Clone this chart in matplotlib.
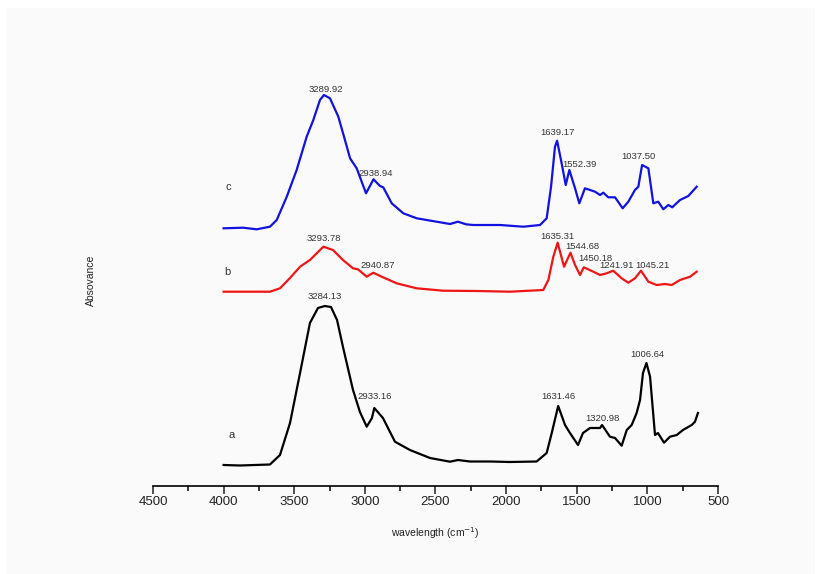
import matplotlib
matplotlib.use("Agg")
import matplotlib.pyplot as plt
from matplotlib.ticker import MultipleLocator
from matplotlib.patches import Rectangle

plt.rcParams['font.family'] = ['Liberation Sans', 'DejaVu Sans']

# FTIR spectra (wavenumber in cm-1, absorbance in a.u., traces stacked)
wn_a = [4000, 3884, 3778, 3672, 3601, 3530, 3459, 3389, 3332, 3284.13, 3240, 3197,
        3155, 3084, 3035, 2987, 2950, 2933.16, 2872, 2822, 2787, 2681, 2539, 2397,
        2341, 2256, 2114, 1973, 1784, 1713, 1677, 1631.46, 1583, 1548, 1491, 1456,
        1406, 1335, 1320.98, 1265, 1229, 1182, 1146, 1111, 1076, 1052, 1031,
        1006.64, 981, 946, 925, 882, 840, 792, 748, 686, 663, 642]
abs_a = [0.21, 0.205, 0.21, 0.215, 0.31, 0.63, 1.13, 1.63, 1.78, 1.80, 1.79, 1.66,
         1.39, 0.96, 0.74, 0.593, 0.68, 0.78, 0.68, 0.54, 0.443, 0.36, 0.28, 0.243,
         0.26, 0.245, 0.245, 0.24, 0.245, 0.33, 0.53, 0.80, 0.61, 0.53, 0.41, 0.53,
         0.58, 0.58, 0.61, 0.493, 0.48, 0.403, 0.56, 0.61, 0.73, 0.86, 1.13,
         1.23, 1.093, 0.51, 0.53, 0.433, 0.493, 0.51, 0.56, 0.61, 0.643, 0.73]

wn_b = [4000, 3672, 3601, 3530, 3459, 3389, 3293.78, 3226, 3155, 3084, 3049, 2987,
        2940.87, 2881, 2775, 2633, 2447, 2208, 1973, 1737, 1701, 1666, 1635.31,
        1590, 1544.68, 1512, 1477, 1450.18, 1383, 1335, 1288, 1241.91, 1182, 1135,
        1088, 1045.21, 993, 934, 875, 828, 769, 698, 651]
abs_b = [1.943, 1.943, 1.977, 2.08, 2.193, 2.26, 2.393, 2.36, 2.26, 2.177, 2.167, 2.093,
         2.133, 2.093, 2.027, 1.977, 1.953, 1.95, 1.943, 1.96, 2.06, 2.293, 2.433,
         2.193, 2.333, 2.21, 2.11, 2.187, 2.143, 2.11, 2.127, 2.153, 2.077, 2.033,
         2.077, 2.153, 2.043, 2.01, 2.02, 2.01, 2.06, 2.093, 2.143]

wn_c = [4000, 3863, 3766, 3672, 3624, 3553, 3483, 3412, 3365, 3318, 3289.92, 3247,
        3188, 3141, 3105, 3058, 2992, 2938.94, 2893, 2870, 2810, 2728, 2633, 2492,
        2397, 2341, 2284, 2232, 2043, 1878, 1760, 1713, 1682, 1654, 1639.17, 1607,
        1578, 1552.39, 1512, 1482, 1442, 1406, 1371, 1335, 1312, 1277, 1229, 1175,
        1135, 1088, 1064, 1037.50, 993, 958, 923, 887, 852, 824, 769, 710, 651]
abs_c = [2.577, 2.583, 2.567, 2.593, 2.66, 2.893, 3.16, 3.493, 3.66, 3.86, 3.91, 3.877,
         3.693, 3.46, 3.277, 3.177, 2.927, 3.067, 3.0, 2.987, 2.827, 2.727, 2.677, 2.643,
         2.62, 2.643, 2.617, 2.61, 2.61, 2.593, 2.61, 2.677, 2.993, 3.393, 3.453, 3.227,
         3.01, 3.16, 2.977, 2.827, 2.977, 2.96, 2.943, 2.91, 2.933, 2.887, 2.887, 2.777,
         2.843, 2.96, 2.993, 3.21, 3.177, 2.827, 2.843, 2.767, 2.81, 2.787, 2.86, 2.9, 2.993]

# labelled peaks: (wavenumber, label offset in points)
peaks_a = [(3284.13, (0, 6.8)), (2933.16, (0, 8.6)), (1631.46, (0, 6.5)),
           (1320.98, (0.5, 5.0)), (1006.64, (1, 5.8))]
peaks_b = [(3293.78, (0, 6.0)), (2940.87, (3.6, 5.5)), (1635.31, (0, 4.8)),
           (1544.68, (8.4, 4.3)), (1450.18, (8.4, 6.5)), (1241.91, (2.2, 3.4)),
           (1045.21, (8.1, 4.1))]
peaks_c = [(3289.92, (1.2, 4.1)), (2938.94, (1.7, 4.5)), (1639.17, (0.4, 5.8)),
           (1552.39, (7.2, 4.3)), (1037.50, (-2.4, 6.0))]

fig = plt.figure(figsize=(8.23, 5.74), dpi=100, facecolor='white')
fig.patches.append(Rectangle((7 / 823, 0), 808 / 823, (574 - 8) / 574,
                             transform=fig.transFigure, facecolor='#fafafa',
                             edgecolor='none', zorder=-10))
ax = fig.add_axes([153 / 823, 88 / 574, 565 / 823, 426 / 574])
ax.patch.set_alpha(0)

series = [(wn_a, abs_a, 'black', peaks_a, 'a', (3941, 0.51)),
          (wn_b, abs_b, '#f01515', peaks_b, 'b', (3976, 2.14)),
          (wn_c, abs_c, '#1212e0', peaks_c, 'c', (3969, 2.99))]

for wn, ab, col, peaks, tag, tag_pos in series:
    ax.plot(wn, ab, color=col, lw=1.6, solid_joinstyle='round')
    for w, off in peaks:
        ax.annotate('%.2f' % w, xy=(w, ab[wn.index(w)]), xytext=off,
                    textcoords='offset points', ha='center', va='center',
                    fontsize=6.8, color='#333333')
    ax.text(tag_pos[0], tag_pos[1], tag, fontsize=8, color='#333333',
            ha='center', va='center')

ax.set_xlim(4500, 500)
ax.set_ylim(0, 4.26)
ax.xaxis.set_major_locator(MultipleLocator(500))
ax.xaxis.set_minor_locator(MultipleLocator(250))
ax.tick_params(axis='x', which='major', direction='out', length=6, width=1.1,
               labelsize=9.5, pad=1.5, colors='#222222')
ax.tick_params(axis='x', which='minor', direction='out', length=3.5, width=1.1)
ax.set_yticks([])
for s in ['left', 'right', 'top']:
    ax.spines[s].set_visible(False)
ax.spines['bottom'].set_linewidth(1.2)

ax.set_xlabel('wavelength (cm$^{-1}$)', fontsize=7.5, color='#222222')
ax.xaxis.set_label_coords(0.5, -0.092)
ax.set_ylabel('Absovance', fontsize=7.5, color='#222222')
ax.yaxis.set_label_coords(-0.101, 0.4836)

fig.savefig('out.png', dpi=100, facecolor=fig.get_facecolor())
